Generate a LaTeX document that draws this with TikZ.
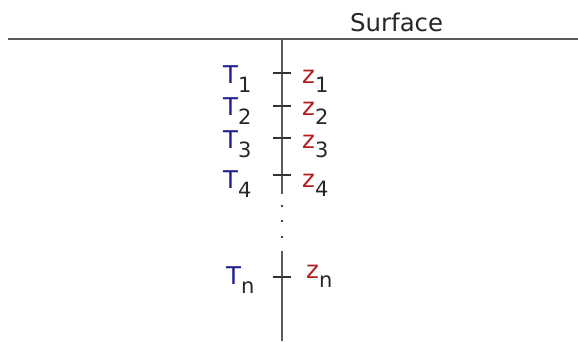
\documentclass[tikz,border=0pt]{standalone}
\usepackage{fontspec}
\setmainfont{DejaVu Sans}
\usetikzlibrary{positioning}
\definecolor{tblue}{HTML}{1E1E8C}
\definecolor{zred}{HTML}{B41E1E}
\definecolor{subgray}{HTML}{262626}
\definecolor{linegray}{HTML}{5A5A5A}
\newcommand\idx[1]{\raisebox{-9pt}{\color{subgray}\fontsize{21}{21}\selectfont #1}}

\begin{document}
\begin{tikzpicture}[x=1pt,y=-1pt,
    lbl/.style={anchor=base west,inner sep=0pt,font=\fontsize{24.4}{29}\selectfont},
    tlab/.style={lbl,text=tblue},
    zlab/.style={lbl,text=zred},
    axis/.style={linegray,line width=1.7pt},
    tick/.style={black!80,line width=1.3pt}]
  \useasboundingbox (0,0) rectangle (578,341);
  % ground surface
  \coordinate (sl) at (8,39);
  \coordinate (sr) at (578,39);
  \draw[axis] (sl) -- (sr);
  \node[lbl,text=black!85] (surf) at (350,31) {Surface};
  % borehole
  \coordinate (top) at (282,39);
  \coordinate (gap1) at (282,194);
  \coordinate (gap2) at (282,251);
  \coordinate (bot) at (282,341);
  \draw[axis] (top) -- (gap1);
  \draw[axis] (gap2) -- (bot);
  \foreach \y in {206,221,237} {\fill[black] (282,\y) circle (1.1);}
  % sensors
  \foreach \i/\y/\tb/\zb in {1/73/83/83,2/106/115/115,3/138/148/148,4/175/188/187} {
    \coordinate (k\i) at (282,\y);
    \draw[tick] ([xshift=-9]k\i) -- ([xshift=9]k\i);
    \node[tlab] (t\i) at (223,\tb) {T\idx{\i}};
    \node[zlab] (z\i) at (302,\zb) {z\idx{\i}};
  }
  \coordinate (kn) at (282,277);
  \draw[tick] ([xshift=-9]kn) -- ([xshift=9]kn);
  \node[tlab] (tn) at (226,284) {T\idx{n}};
  \node[zlab] (zn) at (306,278) {z\idx{n}};
\end{tikzpicture}
\end{document}
